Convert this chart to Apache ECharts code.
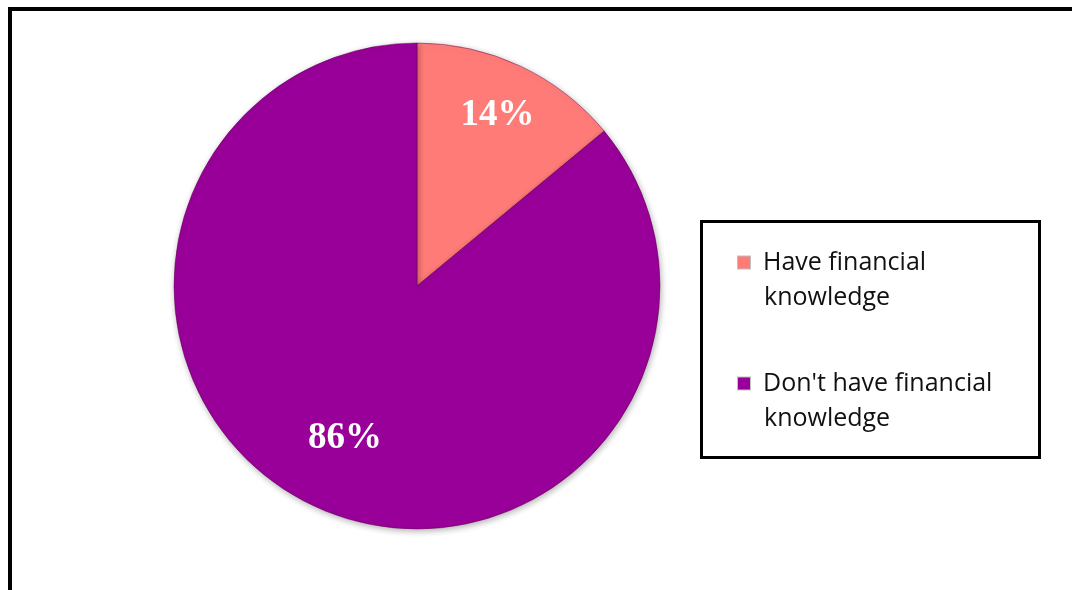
<!DOCTYPE html>
<html>
<head>
<meta charset="utf-8">
<script src="https://cdn.jsdelivr.net/npm/echarts@6/dist/echarts.min.js"></script>
<style>
  html, body { margin: 0; padding: 0; background: #ffffff; }
  #chart { width: 1072px; height: 590px; }
</style>
</head>
<body>
<div id="chart"></div>
<script>
// Share of respondents by financial knowledge
const categories = ['Have financial knowledge', "Don't have financial knowledge"];
const shares = [14, 86];
const colors = ['#FF7B78', '#990099'];
// Legend text wrapped onto two lines per entry
const legendLines = [
  ['Have financial', 'knowledge'],
  ["Don't have financial", 'knowledge']
];

const center = [417, 286];
const pieRadius = 243;

const pieData = categories.map((name, i) => ({
  name: name,
  value: shares[i],
  itemStyle: { color: colors[i] }
}));

// Invisible copy of the pie used only to place one slice's label
function labelPie(index, outer) {
  return {
    type: 'pie',
    center: center,
    radius: [0, outer],
    startAngle: 90,
    silent: true,
    z: 5,
    emphasis: { disabled: true },
    labelLine: { show: false },
    itemStyle: { color: 'rgba(0,0,0,0)', borderWidth: 0 },
    data: categories.map((name, i) => ({
      name: name,
      value: shares[i],
      label: {
        show: i === index,
        position: 'inside',
        formatter: '{c}%',
        color: '#ffffff',
        fontFamily: 'Liberation Serif',
        fontWeight: 'bold',
        fontSize: 37
      }
    }))
  };
}

const rich = {
  t: { fontFamily: 'Open Sans', fontSize: 25, color: '#111111', lineHeight: 35 },
  g: { width: 13, height: 13, lineHeight: 35 },
  s: { width: 26, height: 13, lineHeight: 35 }
};
colors.forEach((c, i) => {
  rich['m' + i] = {
    width: 12, height: 12, lineHeight: 35,
    backgroundColor: c,
    borderColor: 'rgba(0,0,0,0.25)', borderWidth: 1
  };
});

const chart = echarts.init(document.getElementById('chart'), null, { renderer: 'canvas' });
chart.setOption({
  backgroundColor: '#ffffff',
  animation: false,
  legend: {
    orient: 'vertical',
    left: 733,
    top: 250,
    padding: 0,
    itemGap: 61,
    itemWidth: 0,
    itemHeight: 0,
    icon: 'none',
    selectedMode: false,
    data: categories,
    formatter: function (name) {
      const i = categories.indexOf(name);
      return '{m' + i + '|}{g|}{t|' + legendLines[i][0] + '}\n{s|}{t|' + legendLines[i][1] + '}';
    },
    textStyle: { rich: rich }
  },
  graphic: [
    {
      type: 'rect',
      silent: true,
      shape: { x: 10, y: 9, width: 1200, height: 800 },
      style: { fill: null, stroke: '#000000', lineWidth: 4 }
    },
    {
      type: 'rect',
      silent: true,
      shape: { x: 701.5, y: 221.5, width: 338, height: 236 },
      style: { fill: null, stroke: '#000000', lineWidth: 3 }
    }
  ],
  series: [
    {
      type: 'pie',
      center: center,
      radius: [0, pieRadius],
      startAngle: 90,
      clockwise: true,
      silent: true,
      emphasis: { disabled: true },
      label: { show: false },
      labelLine: { show: false },
      itemStyle: {
        borderColor: 'rgba(90,0,70,0.45)',
        borderWidth: 1,
        shadowBlur: 6,
        shadowColor: 'rgba(0,0,0,0.3)',
        shadowOffsetX: 1,
        shadowOffsetY: 2
      },
      data: pieData
    },
    labelPie(0, 372),
    labelPie(1, 332)
  ]
});
</script>
</body>
</html>
